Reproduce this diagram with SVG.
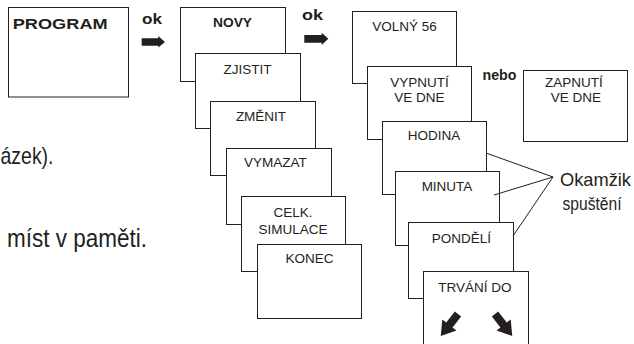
<svg xmlns="http://www.w3.org/2000/svg" width="634" height="344" viewBox="0 0 634 344">
<style>
.box{fill:#fff;stroke:#231f20;stroke-width:1}
.t{font-family:"Liberation Sans",Arial,Helvetica,sans-serif;font-size:13.5px;fill:#231f20;text-anchor:middle}
.b{font-family:"Liberation Sans",Arial,Helvetica,sans-serif;font-weight:bold;fill:#231f20}
.big{font-family:"Liberation Sans",Arial,Helvetica,sans-serif;fill:#231f20}
.ln{stroke:#231f20;stroke-width:1;fill:none}
.ar{fill:#231f20}
</style>
<defs>
<path id="fat" d="M0,-4 L14,-4 L14,-9 L28,0 L14,9 L14,4 L0,4 Z"/>
</defs>
<rect width="634" height="344" fill="#fff"/>

<text class="big" x="0.5" y="164" font-size="24" textLength="53" lengthAdjust="spacingAndGlyphs">ázek).</text>
<text class="big" x="7" y="246.5" font-size="25" textLength="140" lengthAdjust="spacingAndGlyphs">míst v paměti.</text>

<g id="program">
<rect class="box" x="8.5" y="7.5" width="120" height="89.5"/>
<text class="b" x="12.7" y="28.5" font-size="15" textLength="95" lengthAdjust="spacingAndGlyphs">PROGRAM</text>
</g>

<g id="ok1">
<text class="b" x="142" y="24" font-size="15" textLength="20" lengthAdjust="spacingAndGlyphs">ok</text>
<path class="ar" d="M141.7,38.3 L158.3,38.3 L158.3,36 L165,42 L158.3,47.5 L158.3,45.7 L141.7,45.7 Z"/>
</g>

<g id="novy">
<rect class="box" x="180.5" y="7.5" width="105" height="74"/>
<text class="b" x="232.5" y="27.3" font-size="12" text-anchor="middle" textLength="39" lengthAdjust="spacingAndGlyphs">NOVY</text>
</g>
<g id="zjistit">
<rect class="box" x="195.5" y="53.5" width="105" height="75"/>
<text class="t" x="247.5" y="74">ZJISTIT</text>
</g>
<g id="zmenit">
<rect class="box" x="210.5" y="101.5" width="105" height="74"/>
<text class="t" x="261" y="120.7">ZMĚNIT</text>
</g>
<g id="vymazat">
<rect class="box" x="226.5" y="148.5" width="105" height="76"/>
<text class="t" x="275.5" y="166.7">VYMAZAT</text>
</g>
<g id="celk">
<rect class="box" x="241.5" y="196.5" width="104" height="75"/>
<text class="t" x="293" y="217">CELK.</text>
<text class="t" x="293" y="233.7">SIMULACE</text>
</g>
<g id="konec">
<rect class="box" x="257.5" y="244.5" width="104" height="74"/>
<text class="t" x="309.5" y="262.7">KONEC</text>
</g>

<g id="ok2">
<text class="b" x="302" y="20" font-size="15" textLength="21" lengthAdjust="spacingAndGlyphs">ok</text>
<path class="ar" d="M304.3,35 L321.7,35 L321.7,32.7 L328.3,38.8 L321.7,45 L321.7,42.7 L304.3,42.7 Z"/>
</g>

<g id="volny">
<rect class="box" x="352.5" y="11.5" width="104" height="72"/>
<text class="t" x="404.5" y="30.7">VOLNÝ 56</text>
</g>
<g id="vypnuti">
<rect class="box" x="367.5" y="66.5" width="104" height="73"/>
<text class="t" x="419.5" y="87.3">VYPNUTÍ</text>
<text class="t" x="419.5" y="101.7">VE DNE</text>
</g>
<g id="nebo">
<text class="b" x="482.5" y="79.5" font-size="15" textLength="34" lengthAdjust="spacingAndGlyphs">nebo</text>
</g>
<g id="zapnuti">
<rect class="box" x="523.5" y="70.5" width="104" height="71"/>
<text class="t" x="574" y="87.3">ZAPNUTÍ</text>
<text class="t" x="576" y="101.7">VE DNE</text>
</g>
<g id="hodina">
<rect class="box" x="382.5" y="121.5" width="104" height="73"/>
<text class="t" x="434" y="140">HODINA</text>
</g>
<g id="minuta">
<rect class="box" x="395.5" y="171.5" width="104" height="74"/>
<text class="t" x="447" y="191">MINUTA</text>
</g>
<g id="pondeli">
<rect class="box" x="408.5" y="222.5" width="105" height="76"/>
<text class="t" x="461.3" y="243">PONDĚLÍ</text>
</g>
<g id="trvani">
<rect class="box" x="423.5" y="271.5" width="105" height="80"/>
<text class="t" x="475" y="292">TRVÁNÍ DO</text>
<use href="#fat" class="ar" transform="translate(458,314) rotate(128)"/>
<use href="#fat" class="ar" transform="translate(495,314) rotate(52)"/>
</g>

<g id="connectors">
<line class="ln" x1="486" y1="153" x2="553" y2="177"/>
<line class="ln" x1="494" y1="195" x2="553" y2="177"/>
<line class="ln" x1="513" y1="236" x2="553" y2="177"/>
</g>

<g id="okamzik">
<text class="big" x="560" y="186" font-size="18.5" textLength="71" lengthAdjust="spacingAndGlyphs">Okamžik</text>
<text class="big" x="562.5" y="210" font-size="18.5" textLength="59" lengthAdjust="spacingAndGlyphs">spuštění</text>
</g>
</svg>
